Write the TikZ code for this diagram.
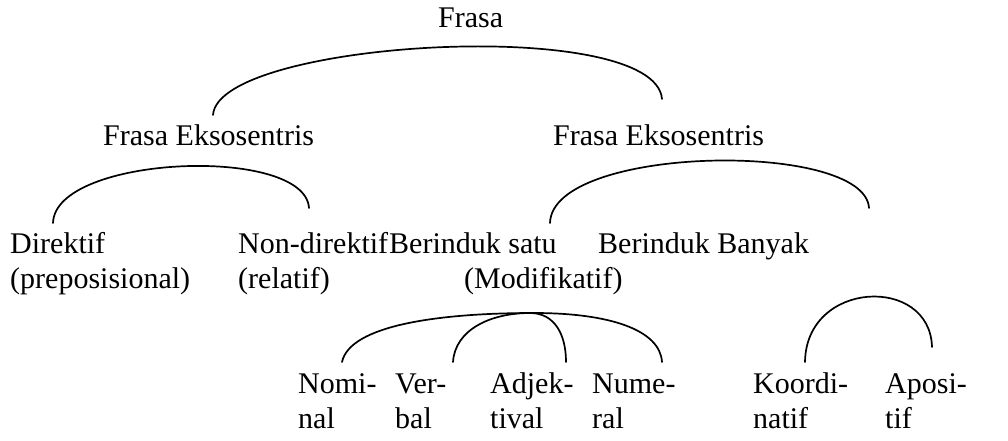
\documentclass[tikz,border=0pt]{standalone}
\usepackage{fontspec}
\setmainfont{Liberation Serif}
\begin{document}
\begin{tikzpicture}[x=1pt,y=-1pt,
  lbl/.style={anchor=base west,inner sep=0pt,align=left,
    font=\fontsize{30pt}{35pt}\selectfont},
  arcline/.style={line width=1.7pt,line cap=round}]
\useasboundingbox (0,0) rectangle (1008,441);

% labels; two-line labels are anchored on the baseline of their last line
\node[lbl] (frasa) at (438,28) {Frasa};
\node[lbl] (feL) at (103,145) {Frasa Eksosentris};
\node[lbl] (feR) at (553,145) {Frasa Eksosentris};
\node[lbl] (dir) at (10,288) {Direktif\\(preposisional)};
\node[lbl] (nondir) at (238,288) {Non-direktif\\(relatif)};
\node[lbl] (bsatu) at (389,288) {Berinduk satu\\\hspace*{75pt}(Modifikatif)};
\node[lbl] (bbanyak) at (598,253) {Berinduk Banyak};
\node[lbl] (nom) at (298,428) {Nomi-\\nal};
\node[lbl] (verb) at (395,428) {Ver-\\bal};
\node[lbl] (adj) at (490,428) {Adjek-\\tival};
\node[lbl] (num) at (592,428) {Nume-\\ral};
\node[lbl] (koord) at (753,428) {Koordi-\\natif};
\node[lbl] (apos) at (885,428) {Aposi-\\tif};

% arc end points
\coordinate (t1) at (213,115);
\coordinate (t2) at (662,99);
\coordinate (l1) at (53,223);
\coordinate (l2) at (309,208);
\coordinate (r1) at (550,223);
\coordinate (r2) at (869,208);
\coordinate (n1) at (342,362);
\coordinate (n2) at (662,362);
\coordinate (v1) at (453,362);
\coordinate (v2) at (566,362);
\coordinate (k1) at (805,362);
\coordinate (k2) at (932,347);

% arcs
\draw[arcline] (t1) .. controls (218,40) and (655,15) .. (t2);
\draw[arcline] (l1) .. controls (55,155) and (305,145) .. (l2);
\draw[arcline] (r1) .. controls (552,145) and (865,140) .. (r2);
\draw[arcline] (n1) .. controls (350,325) and (440,313) .. (534,313)
                   .. controls (610,313) and (660,330) .. (n2);
\draw[arcline] (v1) .. controls (455,330) and (490,313) .. (530,313)
                   .. controls (555,313) and (566,335) .. (v2);
\draw[arcline] (k1) .. controls (806,280) and (930,275) .. (k2);
\end{tikzpicture}
\end{document}
